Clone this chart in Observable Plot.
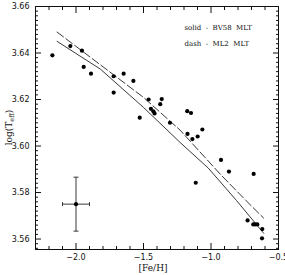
<!DOCTYPE html>
<html>
<head>
<meta charset="utf-8">
<script src="https://cdn.jsdelivr.net/npm/d3@7"></script>
<script src="https://cdn.jsdelivr.net/npm/@observablehq/plot@0.6"></script>
<style>
  body { margin: 0; background: #fff; }
  #chart svg { display: block; }
</style>
</head>
<body>
<div id="chart"></div>
<script>
// Observed stars: metallicity and log effective temperature
const feh = [
  -2.175, -2.042, -1.956, -1.943, -1.889, -1.721, -1.647, -1.721, -1.575, -1.528,
  -1.462, -1.365, -1.376, -1.445, -1.427, -1.418, -1.304, -1.176, -1.148, -1.174,
  -1.099, -1.138, -1.064, -0.926, -0.867, -0.684, -1.113, -0.729, -0.687, -0.672,
  -0.657, -0.620, -0.622
];
const logTeff = [
  3.6390, 3.6430, 3.6410, 3.6340, 3.6311, 3.6300, 3.6311, 3.6230, 3.6280, 3.6122,
  3.6200, 3.6202, 3.6180, 3.6160, 3.6149, 3.6140, 3.6100, 3.6150, 3.6142, 3.6052,
  3.6041, 3.6030, 3.6071, 3.5940, 3.5890, 3.5880, 3.5842, 3.5680, 3.5663, 3.5663,
  3.5663, 3.5643, 3.5603
];

// Model sequence, BV58 mixing length (solid)
const bv58Feh = [-2.14, -1.82, -1.50, -1.23, -1.02, -0.81, -0.61];
const bv58LogTeff = [3.6450, 3.6331, 3.6166, 3.6016, 3.5905, 3.5765, 3.5625];

// Model sequence, ML2 mixing length (dashed)
const ml2Feh = [-2.14, -1.50, -1.23, -0.93, -0.74, -0.61];
const ml2LogTeff = [3.6490, 3.6209, 3.6069, 3.5878, 3.5765, 3.5690];

// Representative error bar
const errFeh = [-2.0];
const errLogTeff = [3.575];
const errFehHalf = [0.1];
const errLogTeffHalf = [0.0116];

// Axis ticks and text
const xMajorTicks = [-2.0, -1.5, -1.0, -0.5];
const yMajorTicks = [3.56, 3.58, 3.60, 3.62, 3.64, 3.66];
const legendLines = ["solid  -  BV58  MLT", "dash  -  ML2  MLT"];
const xLabel = "[Fe/H]";

const stars = feh.map((x, i) => ({x, y: logTeff[i]}));
const bv58 = bv58Feh.map((x, i) => ({x, y: bv58LogTeff[i]}));
const ml2 = ml2Feh.map((x, i) => ({x, y: ml2LogTeff[i]}));
const err = errFeh.map((x, i) => ({x, y: errLogTeff[i], dx: errFehHalf[i], dy: errLogTeffHalf[i]}));

const xMinor = d3.range(-23, -4).map(i => i / 10).filter(v => !xMajorTicks.some(t => Math.abs(t - v) < 1e-9));
const yMinor = d3.range(1778, 1831).map(i => +(i * 0.002).toFixed(3)).filter(v => !yMajorTicks.some(t => Math.abs(t - v) < 1e-9));

// Short cap symbols for the error bar ends
const hCap = {draw(ctx, size) { const w = Math.sqrt(size / Math.PI); ctx.moveTo(-w, 0); ctx.lineTo(w, 0); }};
const vCap = {draw(ctx, size) { const w = Math.sqrt(size / Math.PI); ctx.moveTo(0, -w); ctx.lineTo(0, w); }};

const serif = "DejaVu Serif";

const plot = Plot.plot({
  width: 285,
  height: 275,
  marginLeft: 35,
  marginRight: 7,
  marginTop: 6,
  marginBottom: 26,
  style: {fontFamily: "DejaVu Sans", fontSize: "8px", color: "#111", background: "#fff"},
  x: {domain: [-2.3, -0.5]},
  y: {domain: [3.5555, 3.66]},
  marks: [
    Plot.frame({stroke: "#111"}),
    // inward ticks on all four sides
    Plot.axisX({ticks: xMajorTicks, anchor: "bottom", tickSize: -6, tickPadding: 11, tickFormat: d3.format(".1f"), label: null}),
    Plot.axisX({ticks: xMinor, anchor: "bottom", tickSize: -3, fill: "none", label: null}),
    Plot.axisX({ticks: xMajorTicks, anchor: "top", tickSize: -6, fill: "none", label: null}),
    Plot.axisX({ticks: xMinor, anchor: "top", tickSize: -3, fill: "none", label: null}),
    Plot.axisY({ticks: yMajorTicks, anchor: "left", tickSize: -6, tickPadding: 12, tickFormat: d3.format(".2f"), label: null}),
    Plot.axisY({ticks: yMinor, anchor: "left", tickSize: -3, fill: "none", label: null}),
    Plot.axisY({ticks: yMajorTicks, anchor: "right", tickSize: -6, fill: "none", label: null}),
    Plot.axisY({ticks: yMinor, anchor: "right", tickSize: -3, fill: "none", label: null}),
    // model sequences
    Plot.line(bv58, {x: "x", y: "y", stroke: "#222", strokeWidth: 0.9}),
    Plot.line(ml2, {x: "x", y: "y", stroke: "#222", strokeWidth: 0.9, strokeDasharray: "8,3"}),
    // stars
    Plot.dot(stars, {x: "x", y: "y", r: 2.1, fill: "#000", stroke: "none"}),
    // error bar
    Plot.link(err, {x1: d => d.x - d.dx, x2: d => d.x + d.dx, y1: "y", y2: "y", stroke: "#222", strokeWidth: 0.9}),
    Plot.link(err, {x1: "x", x2: "x", y1: d => d.y - d.dy, y2: d => d.y + d.dy, stroke: "#222", strokeWidth: 0.9}),
    Plot.dot(err, {x: d => d.x - d.dx, y: "y", symbol: vCap, r: 2, stroke: "#222", strokeWidth: 0.9, fill: "none"}),
    Plot.dot(err, {x: d => d.x + d.dx, y: "y", symbol: vCap, r: 2, stroke: "#222", strokeWidth: 0.9, fill: "none"}),
    Plot.dot(err, {x: "x", y: d => d.y - d.dy, symbol: hCap, r: 2.5, stroke: "#222", strokeWidth: 0.9, fill: "none"}),
    Plot.dot(err, {x: "x", y: d => d.y + d.dy, symbol: hCap, r: 2.5, stroke: "#222", strokeWidth: 0.9, fill: "none"}),
    Plot.dot(err, {x: "x", y: "y", r: 2.1, fill: "#000", stroke: "none"}),
    // legend text
    Plot.text([legendLines[0]], {frameAnchor: "top-left", dx: 149, dy: 23.3, lineAnchor: "bottom", textAnchor: "start", fontFamily: serif, fontSize: 7, fill: "#111"}),
    Plot.text([legendLines[1]], {frameAnchor: "top-left", dx: 149, dy: 39.7, lineAnchor: "bottom", textAnchor: "start", fontFamily: serif, fontSize: 7, fill: "#111"}),
    // x-axis title
    Plot.text([xLabel], {frameAnchor: "bottom", dx: -4, dy: 21, lineAnchor: "bottom", fontFamily: serif, fontSize: 9, fill: "#111"})
  ]
});

// y-axis title with subscript
const svg = d3.select(plot);
const yt = svg.append("text")
  .attr("transform", "translate(12,127.5) rotate(-90)")
  .attr("text-anchor", "middle")
  .attr("font-family", serif)
  .attr("font-size", 9)
  .attr("fill", "#111");
yt.append("tspan").text("log(T");
yt.append("tspan").attr("font-size", 6.5).attr("dy", 2).text("eff");
yt.append("tspan").attr("dy", -2).text(")");

document.getElementById("chart").appendChild(plot);
</script>
</body>
</html>
